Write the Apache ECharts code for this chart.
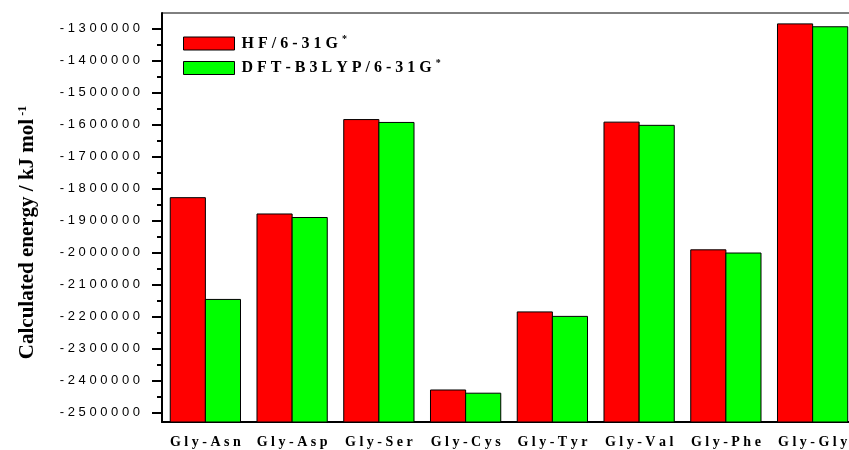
<!DOCTYPE html>
<html><head><meta charset="utf-8">
<script src="https://cdn.jsdelivr.net/npm/echarts@6/dist/echarts.min.js"></script>
<style>html,body{margin:0;padding:0;background:#fff}#c{width:849px;height:450px}</style>
</head><body><div id="c"></div>
<script>
const categories = ['Gly-Asn','Gly-Asp','Gly-Ser','Gly-Cys','Gly-Tyr','Gly-Val','Gly-Phe','Gly-Gly'];
const seriesNames = ['HF/6-31G*','DFT-B3LYP/6-31G*'];
const hfValues  = [-1829000,-1880000,-1585000,-2430000,-2186000,-1593000,-1992000,-1286000];
const dftValues = [-2147000,-1891000,-1594000,-2440000,-2200000,-1603000,-2002000,-1295000];
const yMajorTicks = [-2500000,-2400000,-2300000,-2200000,-2100000,-2000000,-1900000,-1800000,-1700000,-1600000,-1500000,-1400000,-1300000];
const yMinorTicks = [-2450000,-2350000,-2250000,-2150000,-2050000,-1950000,-1850000,-1750000,-1650000,-1550000,-1450000,-1350000];
const yAxisTitle = 'Calculated energy / kJ mol';
const yAxisTitleSup = '-1';

const Y_MIN = -2530000, Y_MAX = -1252000;
const spaced = s => String(s).split('').join(' ');
const serif = 'Liberation Serif';

function barSeries(name, values, color, side) {
  return {
    type: 'custom', name: name,
    xAxisIndex: 0, yAxisIndex: 0,
    itemStyle: { color: color },
    data: values.map((v, i) => [i, v]),
    encode: { x: 0, y: 1 },
    renderItem: function (params, api) {
      const i = api.value(0), v = api.value(1);
      const top = api.coord([i, v]);
      const base = api.coord([i, Y_MIN]);
      const band = api.size([1, 0])[0];
      const w = band * 0.405;
      const x = side === 0 ? top[0] - w : top[0];
      return {
        type: 'rect',
        shape: { x: x, y: top[1], width: w, height: base[1] - top[1] },
        style: { fill: color, stroke: '#000', lineWidth: 1 }
      };
    }
  };
}

const chart = echarts.init(document.getElementById('c'), null, { renderer: 'canvas' });
chart.setOption({
  backgroundColor: '#fff',
  animation: false,
  grid: { left: 162, width: 694, top: 13, bottom: 28, show: true, borderColor: '#000', borderWidth: 1, containLabel: false, outerBoundsMode: 'none' },
  legend: {
    orient: 'vertical', left: 183, top: 34, padding: 0,
    itemWidth: 51, itemHeight: 13, itemGap: 7,
    icon: 'rect',
    itemStyle: { borderColor: '#000', borderWidth: 1 },
    data: seriesNames,
    formatter: function (name) {
      return '{m|' + spaced(name.replace(/\*$/, '')) + '}{sup|*}';
    },
    textStyle: {
      rich: {
        m: { fontFamily: serif, fontWeight: 'bold', fontSize: 16, color: '#000', lineHeight: 19, padding: [0, 0, 0, 2] },
        sup: { fontFamily: serif, fontWeight: 'bold', fontSize: 10, color: '#000', verticalAlign: 'top', padding: [0, 0, 0, 4] }
      }
    }
  },
  xAxis: [
    {
      type: 'category', data: categories, position: 'bottom',
      axisLine: { lineStyle: { color: '#000', width: 2 } },
      axisTick: { alignWithLabel: true, length: 8, lineStyle: { color: '#000', width: 2 } },
      axisLabel: { interval: 0, margin: 13, formatter: spaced, fontFamily: serif, fontWeight: 'bold', fontSize: 14, color: '#000' },
      splitLine: { show: false }
    },
    {
      type: 'category', data: categories, position: 'bottom',
      axisLine: { show: false },
      axisTick: { interval: 0, length: 4, lineStyle: { color: '#000', width: 2 } },
      axisLabel: { show: false },
      splitLine: { show: false }
    }
  ],
  yAxis: [
    {
      type: 'value', min: Y_MIN, max: Y_MAX, position: 'left',
      axisLine: { show: true, lineStyle: { color: '#000', width: 2 } },
      axisTick: { show: true, length: 10, customValues: yMajorTicks, lineStyle: { color: '#000', width: 2 } },
      axisLabel: { margin: 22, customValues: yMajorTicks, formatter: v => spaced(v), fontFamily: 'Liberation Sans', fontSize: 13, color: '#000' },
      splitLine: { show: false },
      name: '{m|' + yAxisTitle + '}{sup|' + yAxisTitleSup + '}',
      nameLocation: 'middle', nameRotate: 90, nameGap: 124,
      nameTextStyle: {
        padding: [0, 30, 0, 0],
        rich: {
          m: { fontFamily: serif, fontWeight: 'bold', fontSize: 21, color: '#000' },
          sup: { fontFamily: serif, fontWeight: 'bold', fontSize: 12, color: '#000', verticalAlign: 'top', padding: [0, 0, 0, 3] }
        }
      }
    },
    {
      type: 'value', min: Y_MIN, max: Y_MAX, position: 'left',
      axisLine: { show: false },
      axisTick: { show: true, length: 5, customValues: yMinorTicks, lineStyle: { color: '#000', width: 2 } },
      axisLabel: { show: false },
      splitLine: { show: false }
    }
  ],
  series: [
    barSeries(seriesNames[0], hfValues, '#ff0000', 0),
    barSeries(seriesNames[1], dftValues, '#00ff00', 1)
  ]
});
</script></body></html>
